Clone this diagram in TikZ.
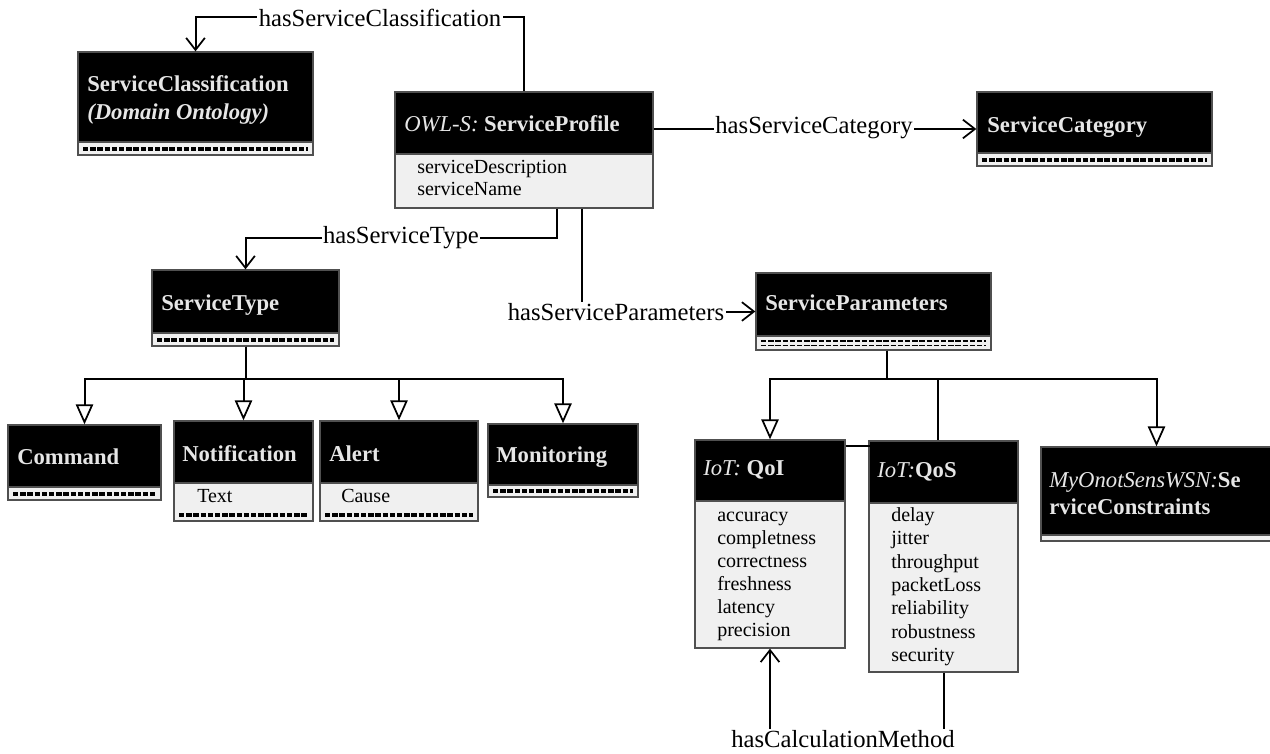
\documentclass[tikz,border=0pt]{standalone}
\usepackage{fontspec}
\setmainfont{Liberation Serif}
\usetikzlibrary{arrows.meta,fit}

\definecolor{headtext}{HTML}{E6E6E6}
\definecolor{compfill}{HTML}{F0F0F0}
\definecolor{framegray}{HTML}{505050}

\tikzset{
  frame/.style={draw=framegray, line width=1pt, inner sep=0pt},
  head/.style={font=\fontsize{17}{20}\selectfont\bfseries, text=headtext, anchor=west, inner sep=0pt,
               text height=13pt, text depth=1pt},
  attr/.style={font=\fontsize{15}{17}\selectfont, anchor=west, inner sep=0pt,
               text height=10.5pt, text depth=3.5pt},
  lbl/.style={font=\fontsize{18.5}{21}\selectfont, fill=white, inner sep=1pt},
  assoc/.style={line width=1.5pt, -{Straight Barb[length=9pt,width=14pt,line width=1.3pt]}},
  inh/.style={line width=1.5pt, -{Triangle[open,length=15pt,width=13pt,line width=1.3pt,fill=white]}},
  link/.style={line width=1.5pt},
  stripdash/.style={line width=2.4pt, dash pattern=on 4pt off 1.4pt, draw=black},
}

% class box: name, left, top, right, header bottom, box bottom
\newcommand{\umlclass}[6]{%
  \fill[black] (#2,#3) rectangle (#4,#5);
  \fill[compfill] (#2,#5) rectangle (#4,#6);
  \draw[framegray, line width=1pt] (#2,#5) -- (#4,#5);
  \node[frame, fit={(#2,#3)(#4,#6)}] (#1) {};
}
% dashed separator inside a compartment: left, right, y
\newcommand{\dashrow}[3]{\draw[stripdash] ({#1+5},#3) -- ({#2-5},#3);}

\begin{document}
\begin{tikzpicture}[x=0.75pt,y=-0.75pt]
\useasboundingbox (0,0) rectangle (1270,753);

% ---- classes ----
\umlclass{sc}{78}{52}{313}{142}{155}
\dashrow{78}{313}{149}
\node[head] at (87,83) {ServiceClassification};
\node[head] at (87,111) {\itshape (Domain Ontology)};

\umlclass{sp}{395}{92}{653}{154}{208}
\node[head] at (404,123) {{\mdseries\itshape OWL-S:} ServiceProfile};
\node[attr] at (417,169) {serviceDescription};
\node[attr] at (417,191) {serviceName};

\umlclass{scat}{977}{92}{1212}{153}{166}
\dashrow{977}{1212}{160}
\node[head] at (987,124) {ServiceCategory};

\umlclass{st}{152}{270}{339}{333}{346}
\dashrow{152}{339}{340}
\node[head] at (161,302) {ServiceType};

\umlclass{spar}{756}{273}{991}{336}{350}
\draw[stripdash, line width=1.4pt] (761,341) -- (986,341);
\draw[stripdash, line width=1.4pt] (761,345.5) -- (986,345.5);
\node[head] at (765,302) {ServiceParameters};

\umlclass{cmd}{8}{425}{161}{487}{500}
\dashrow{8}{161}{494}
\node[head] at (17,456) {Command};

\umlclass{notif}{174}{421}{313}{483}{521}
\dashrow{174}{313}{515}
\node[head] at (182,453) {Notification};
\node[attr] at (197,498) {Text};

\umlclass{alert}{320}{421}{478}{483}{521}
\dashrow{320}{478}{515}
\node[head] at (329,453) {Alert};
\node[attr] at (341,498) {Cause};

\umlclass{mon}{488}{424}{638}{485}{497}
\dashrow{488}{638}{491}
\node[head] at (496,454) {Monitoring};

\umlclass{qoi}{695}{440}{845}{501}{648}
\node[head] at (703,467) {{\mdseries\itshape IoT:} QoI};
\foreach \t [count=\i from 0] in {accuracy,completness,correctness,freshness,latency,precision}
  \node[attr] at (717,517+23*\i) {\t};

\umlclass{qos}{869}{441}{1018}{503}{672}
\node[head] at (877,469) {{\mdseries\itshape IoT:}QoS};
\foreach \t [count=\i from 0] in {delay,jitter,throughput,packetLoss,reliability,robustness,security}
  \node[attr] at (891,517+23.3*\i) {\t};

\umlclass{myo}{1041}{447}{1272}{535}{541}
\node[head] at (1049,479) {{\mdseries\itshape MyOnotSensWSN:}Se};
\node[head] at (1049,506) {rviceConstraints};

% ---- associations ----
\draw[assoc] (sp.north) -- ++(0,-74) -| (sc.north);
\draw[assoc] (sp.east |- scat.west) -- (scat.west);
\draw[assoc] (sp.south) ++(33,0) -- ++(0,29) -| (st.north);
\draw[assoc] (sp.south) ++(58,0) |- (spar.west);
\draw[assoc] (qos.south) -- ++(0,68) -| (qoi.south);
\draw[link] (qoi.north east) ++(0,7) -- ++(24,0);

% ---- generalisations ----
\foreach \c in {cmd,notif,alert,mon}
  \draw[inh] (st.south) -- ++(0,32) -| (\c.north);
\draw[inh] (spar.south) ++(13,0) -- ++(0,28) -| (qoi.north);
\draw[inh] (spar.south) ++(13,0) -- ++(0,28) -| (myo.north);
\draw[link] (spar.south) ++(13,0) -- ++(0,28) -| ([xshift=-4.5pt]qos.north);

% ---- association labels ----
\node[lbl] at (380,18) {hasServiceClassification};
\node[lbl] at (814,128) {hasServiceCategory};
\node[lbl] at (401,238) {hasServiceType};
\node[lbl] at (616,312) {hasServiceParameters};
\node[lbl] at (843,739) {hasCalculationMethod};
\end{tikzpicture}
\end{document}
